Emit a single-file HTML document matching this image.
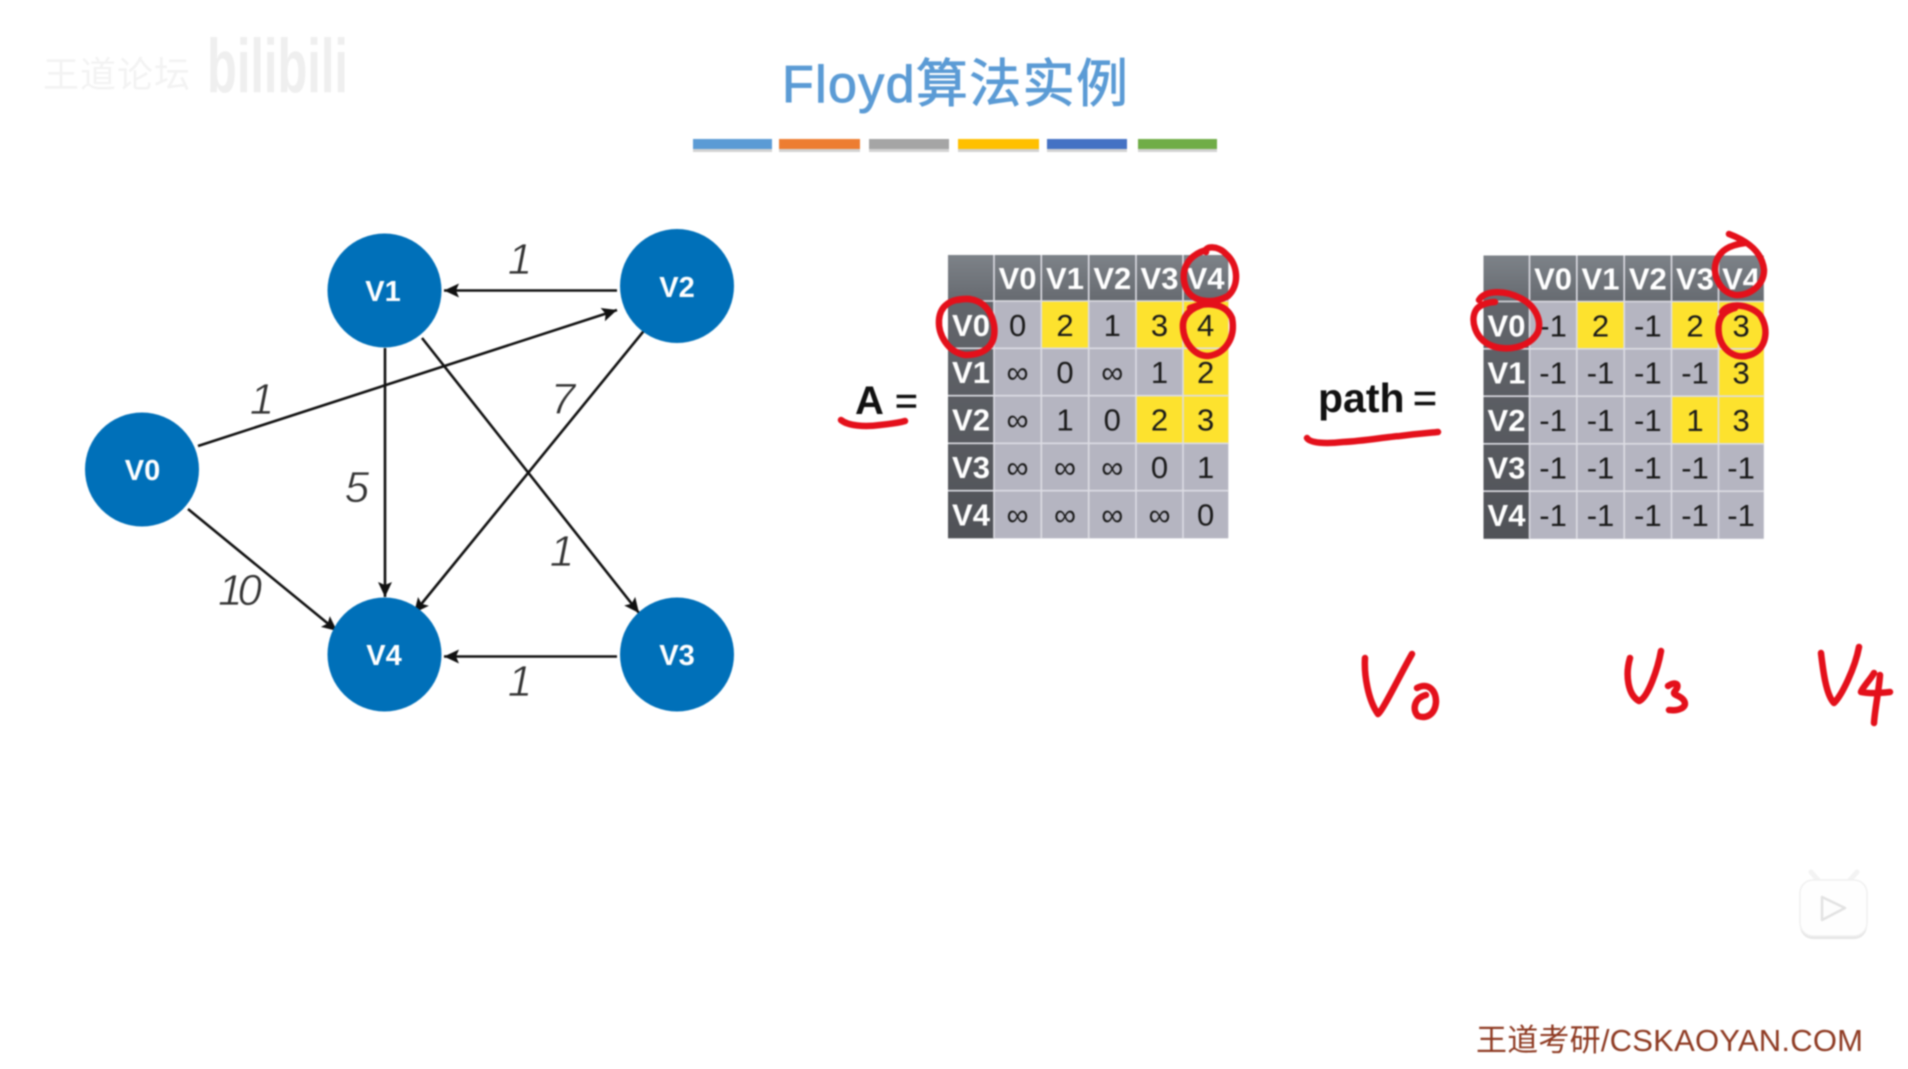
<!DOCTYPE html>
<html lang="zh">
<head>
<meta charset="utf-8">
<title>Floyd算法实例</title>
<style>
html,body{margin:0;padding:0;background:#fff;width:1908px;height:1069px;overflow:hidden}
svg{display:block;filter:blur(.7px)}
.h{font:bold 31px "Liberation Sans",sans-serif;fill:#fff;text-anchor:middle}
.c{font:31px "Liberation Sans","DejaVu Sans",sans-serif;fill:#1a1a1a;text-anchor:middle}
.n{font:bold 29px "Liberation Sans",sans-serif;fill:#fff;text-anchor:middle}
.w{font:italic 44px "Liberation Sans",sans-serif;fill:#333;text-anchor:middle;stroke:#fff;stroke-width:.7}
.r{fill:none;stroke:#e4101b;stroke-width:6.500;stroke-linecap:round;stroke-linejoin:round}
.e{stroke:#111;stroke-width:2.6;fill:none;marker-end:url(#a)}
</style>
</head>
<body>
<svg width="1908" height="1069" viewBox="0 0 1908 1069" xmlns="http://www.w3.org/2000/svg">
<defs>
<marker id="a" markerUnits="userSpaceOnUse" markerWidth="18" markerHeight="16" refX="15" refY="7" orient="auto">
<polygon points="0,0 15,7 0,14 3,7" fill="#111"/>
</marker>
<linearGradient id="hd" x1="0" y1="0" x2="0" y2="1"><stop offset="0" stop-color="#7d8288"/><stop offset="1" stop-color="#666a70"/></linearGradient>
<linearGradient id="ld" x1="0" y1="0" x2="0" y2="1"><stop offset="0" stop-color="#62656b"/><stop offset="1" stop-color="#505257"/></linearGradient>
<g id="grid">
<rect x="948" y="255" width="46" height="46" fill="url(#hd)"/>
<rect x="994" y="255" width="234.300" height="46" fill="url(#hd)"/>
<rect x="948" y="301" width="46" height="237.300" fill="url(#ld)"/>
<rect x="994" y="301" width="234.300" height="237.300" fill="#b5b5c1"/>
<rect x="1041.300" y="301" width="47.400" height="47.300" fill="#fde22e"/>
<rect x="1136" y="301" width="92.300" height="47.300" fill="#fde22e"/>
<rect x="1183" y="348.300" width="45.300" height="47.400" fill="#fde22e"/>
<rect x="1136" y="395.700" width="92.300" height="47.600" fill="#fde22e"/>
<g stroke="#dddde4" stroke-width="1.600">
<line x1="994" y1="255" x2="994" y2="538"/>
<line x1="1041.300" y1="255" x2="1041.300" y2="538"/>
<line x1="1088.700" y1="255" x2="1088.700" y2="538"/>
<line x1="1136" y1="255" x2="1136" y2="538"/>
<line x1="1183" y1="255" x2="1183" y2="538"/>
<line x1="948" y1="301" x2="1228" y2="301"/>
<line x1="948" y1="348.300" x2="1228" y2="348.300"/>
<line x1="948" y1="395.700" x2="1228" y2="395.700"/>
<line x1="948" y1="443.300" x2="1228" y2="443.300"/>
<line x1="948" y1="490.700" x2="1228" y2="490.700"/>
</g>
<text class="h" x="1017.600" y="289">V0</text>
<text class="h" x="1065" y="289">V1</text>
<text class="h" x="1112.300" y="289">V2</text>
<text class="h" x="1159.500" y="289">V3</text>
<text class="h" x="1205.600" y="289">V4</text>
<text class="h" x="971" y="336">V0</text>
<text class="h" x="971" y="383">V1</text>
<text class="h" x="971" y="430.500">V2</text>
<text class="h" x="971" y="478">V3</text>
<text class="h" x="971" y="525.500">V4</text>
</g>
</defs>

<rect width="1908" height="1069" fill="#fff"/>

<!-- watermark -->
<text x="43" y="87" font-family="'Liberation Sans','Noto Sans CJK SC',sans-serif" font-size="36" fill="#f3f3f3" textLength="147">王道论坛</text>
<text x="207" y="92" font-family="'Liberation Sans',sans-serif" font-weight="bold" font-size="76" fill="#efefef" textLength="141" lengthAdjust="spacingAndGlyphs">bilibili</text>

<!-- title -->
<text x="782" y="102" font-family="'Liberation Sans','Noto Sans CJK SC',sans-serif" font-size="52" fill="#5b9bd5" stroke="#5b9bd5" stroke-width=".9" textLength="346">Floyd算法实例</text>
<g>
<rect x="693" y="142" width="79" height="10" fill="#d2d2d2"/>
<rect x="779" y="142" width="81" height="10" fill="#d2d2d2"/>
<rect x="869" y="142" width="80" height="10" fill="#d2d2d2"/>
<rect x="958" y="142" width="81" height="10" fill="#d2d2d2"/>
<rect x="1047" y="142" width="80" height="10" fill="#d2d2d2"/>
<rect x="1138" y="142" width="79" height="10" fill="#d2d2d2"/>
<rect x="693" y="139" width="79" height="10" fill="#5b9bd5"/>
<rect x="779" y="139" width="81" height="10" fill="#ed7d31"/>
<rect x="869" y="139" width="80" height="10" fill="#a5a5a5"/>
<rect x="958" y="139" width="81" height="10" fill="#ffc000"/>
<rect x="1047" y="139" width="80" height="10" fill="#4472c4"/>
<rect x="1138" y="139" width="79" height="10" fill="#70ad47"/>
</g>

<g transform="translate(-1,0)">
<!-- graph edges -->
<line class="e" x1="199" y1="446" x2="618" y2="310"/>
<line class="e" x1="618" y1="290.500" x2="445" y2="290.500"/>
<line class="e" x1="386" y1="348" x2="386" y2="597"/>
<line class="e" x1="423" y1="338" x2="640" y2="613"/>
<line class="e" x1="648" y1="327" x2="415" y2="613"/>
<line class="e" x1="189" y1="509" x2="338" y2="631"/>
<line class="e" x1="618" y1="656.500" x2="445" y2="656.500"/>

<!-- graph nodes -->
<circle cx="143" cy="469.500" r="57" fill="#0070b9"/>
<circle cx="385.500" cy="290.500" r="57" fill="#0070b9"/>
<circle cx="678" cy="286" r="57" fill="#0070b9"/>
<circle cx="678" cy="654.500" r="57" fill="#0070b9"/>
<circle cx="385.500" cy="654.500" r="57" fill="#0070b9"/>
<text class="n" x="143.500" y="480">V0</text>
<text class="n" x="384" y="301">V1</text>
<text class="n" x="678" y="297">V2</text>
<text class="n" x="678" y="665">V3</text>
<text class="n" x="385" y="665">V4</text>
</g>

<!-- edge labels -->
<text class="w" x="520" y="274">1</text>
<text class="w" x="262" y="414">1</text>
<text class="w" x="563" y="414">7</text>
<text class="w" x="357" y="502">5</text>
<text class="w" x="562" y="566">1</text>
<text class="w" x="240" y="605" textLength="44">10</text>
<text class="w" x="520" y="696">1</text>

<!-- A label -->
<text x="855" y="414" font-family="'Liberation Sans',sans-serif" font-weight="bold" font-size="40" fill="#111">A</text>
<text x="895" y="414" font-family="'Liberation Sans',sans-serif" font-size="39" fill="#111" stroke="#111" stroke-width=".6">=</text>
<path class="r" d="M841 420 C848 426 865 427 880 425 C890 424 898 423 905 421"/>

<!-- path label -->
<text x="1318" y="412" font-family="'Liberation Sans',sans-serif" font-weight="bold" font-size="41" fill="#111">path</text>
<text x="1413" y="412" font-family="'Liberation Sans',sans-serif" font-size="41" fill="#111" stroke="#111" stroke-width=".6">=</text>
<path class="r" d="M1307 438 C1310 443 1325 444 1343 442 C1365 441 1385 437 1400 436 C1415 434 1428 433 1438 432"/>

<!-- table A -->
<use href="#grid"/>
<g>
<text class="c" x="1017.600" y="336">0</text><text class="c" x="1065" y="336">2</text><text class="c" x="1112.300" y="336">1</text><text class="c" x="1159.500" y="336">3</text><text class="c" x="1205.600" y="336">4</text>
<text class="c" x="1017.600" y="383">∞</text><text class="c" x="1065" y="383">0</text><text class="c" x="1112.300" y="383">∞</text><text class="c" x="1159.500" y="383">1</text><text class="c" x="1205.600" y="383">2</text>
<text class="c" x="1017.600" y="430.500">∞</text><text class="c" x="1065" y="430.500">1</text><text class="c" x="1112.300" y="430.500">0</text><text class="c" x="1159.500" y="430.500">2</text><text class="c" x="1205.600" y="430.500">3</text>
<text class="c" x="1017.600" y="478">∞</text><text class="c" x="1065" y="478">∞</text><text class="c" x="1112.300" y="478">∞</text><text class="c" x="1159.500" y="478">0</text><text class="c" x="1205.600" y="478">1</text>
<text class="c" x="1017.600" y="525.500">∞</text><text class="c" x="1065" y="525.500">∞</text><text class="c" x="1112.300" y="525.500">∞</text><text class="c" x="1159.500" y="525.500">∞</text><text class="c" x="1205.600" y="525.500">0</text>
</g>

<!-- table path -->
<g transform="translate(535.500,0.500)">
<use href="#grid"/>
<text class="c" x="1017.600" y="336">-1</text><text class="c" x="1065" y="336">2</text><text class="c" x="1112.300" y="336">-1</text><text class="c" x="1159.500" y="336">2</text><text class="c" x="1205.600" y="336">3</text>
<text class="c" x="1017.600" y="383">-1</text><text class="c" x="1065" y="383">-1</text><text class="c" x="1112.300" y="383">-1</text><text class="c" x="1159.500" y="383">-1</text><text class="c" x="1205.600" y="383">3</text>
<text class="c" x="1017.600" y="430.500">-1</text><text class="c" x="1065" y="430.500">-1</text><text class="c" x="1112.300" y="430.500">-1</text><text class="c" x="1159.500" y="430.500">1</text><text class="c" x="1205.600" y="430.500">3</text>
<text class="c" x="1017.600" y="478">-1</text><text class="c" x="1065" y="478">-1</text><text class="c" x="1112.300" y="478">-1</text><text class="c" x="1159.500" y="478">-1</text><text class="c" x="1205.600" y="478">-1</text>
<text class="c" x="1017.600" y="525.500">-1</text><text class="c" x="1065" y="525.500">-1</text><text class="c" x="1112.300" y="525.500">-1</text><text class="c" x="1159.500" y="525.500">-1</text><text class="c" x="1205.600" y="525.500">-1</text>
</g>

<!-- red circles -->
<path class="r" d="M958 300 C975 296 990 304 994 325 C997 345 985 355 965 355 C948 352 938 335 939 320 C940 306 950 298 970 299"/>
<path class="r" d="M1206 252 C1204 246 1218 245 1226 254 C1238 264 1240 285 1228 296 C1212 305 1192 302 1186 288 C1180 272 1186 256 1206 250"/>
<path class="r" d="M1190 308 C1205 302 1225 302 1232 318 C1236 338 1225 354 1208 356 C1194 356 1184 342 1183 328 C1182 316 1190 308 1205 304"/>
<path class="r" d="M1479 300 C1485 290 1505 290 1520 298 C1535 305 1542 320 1538 332 C1530 348 1505 352 1490 345 C1475 338 1470 320 1476 310 C1480 304 1490 302 1495 302"/>
<path class="r" d="M1729 234 C1745 240 1762 250 1764 270 C1764 285 1750 296 1735 295 C1720 292 1712 275 1716 262 C1720 250 1730 245 1745 243"/>
<path class="r" d="M1722 312 C1728 302 1750 304 1760 315 C1770 330 1766 350 1750 355 C1735 360 1722 350 1719 335 C1717 322 1720 312 1735 308"/>

<!-- handwriting -->
<path class="r" d="M1365 658 C1364 675 1368 700 1378 714 C1382 712 1400 675 1412 654"/>
<path class="r" d="M1417 688 C1428 682 1436 690 1436 702 C1435 715 1426 719 1418 716 C1412 710 1414 698 1426 695"/>
<path class="r" d="M1630 658 C1625 675 1628 695 1639 701 C1648 698 1658 668 1661 651"/>
<path class="r" d="M1668 686 C1674 682 1679 683 1677 688 C1675 692 1672 693 1676 695 C1686 699 1688 706 1680 709 C1676 711 1672 710 1669 710"/>
<path class="r" d="M1821 653 C1823 670 1826 695 1834 703 C1842 695 1855 668 1859 647"/>
<path class="r" d="M1874 673 C1870 680 1862 688 1861 692 C1870 694 1880 693 1890 692"/>
<path class="r" d="M1880 675 C1879 690 1875 708 1874 723"/>

<!-- bilibili icon -->
<rect x="1800" y="883" width="67" height="56" rx="13" fill="#e6e6e6"/>
<g fill="#fefefe" stroke="#f0f0f0" stroke-width="1.500">
<path d="M1818 880 L1811 872 M1850 880 L1857 872" stroke="#f3f3f3" stroke-width="5" stroke-linecap="round"/>
<rect x="1800" y="880" width="67" height="56" rx="13" stroke="#f0f0f0"/>
<path d="M1822 897 L1845 908 L1822 920 Z" fill="#fdfdfd" stroke="#e2e2e2" stroke-width="2.500" stroke-linejoin="round"/>
</g>

<!-- footer -->
<text x="1476" y="1051" font-family="'Liberation Sans','Noto Sans CJK SC',sans-serif" font-size="31" fill="#8e3a22" textLength="387">王道考研/CSKAOYAN.COM</text>
</svg>
</body>
</html>
